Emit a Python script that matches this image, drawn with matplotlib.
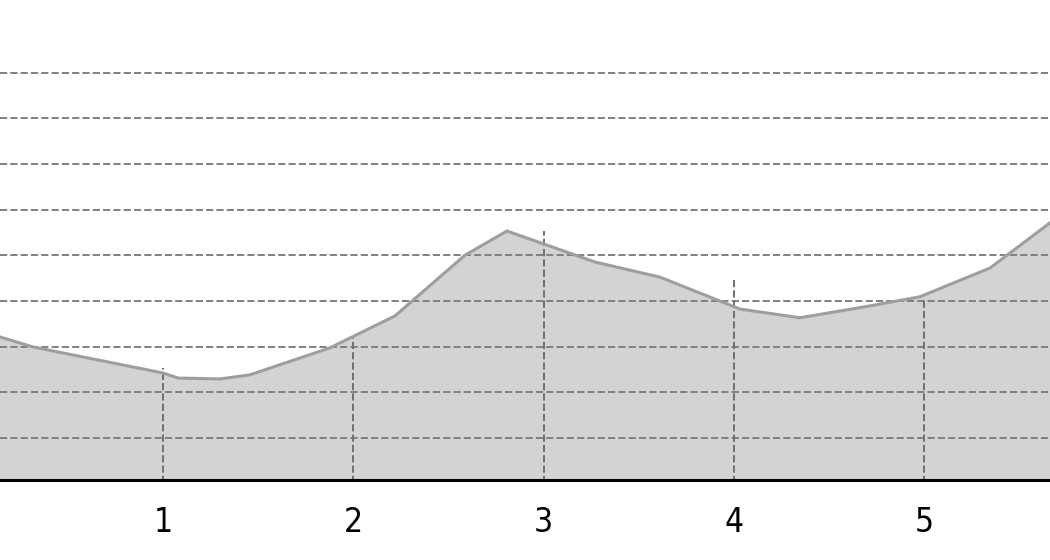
import matplotlib
matplotlib.use("Agg")
import matplotlib.pyplot as plt

# curve
curve_x = [0.143, 0.317, 1.0, 1.079, 1.30, 1.457, 1.877, 2.219, 2.587, 2.808,
           3.271, 3.612, 4.033, 4.348, 4.716, 4.978, 5.347, 5.662]
curve_y = [3.21, 2.99, 2.42, 2.31, 2.29, 2.38, 2.97, 3.67, 5.00, 5.53,
           4.85, 4.52, 3.82, 3.63, 3.89, 4.09, 4.72, 5.71]

# drop lines at the ticks
tick_x = [1, 2, 3, 4, 5]
tick_vals = [2.53, 3.21, 5.53, 4.48, 4.07]
tick_labels = ["1", "2", "3", "4", "5"]
grid_levels = [1, 2, 3, 4, 5, 6, 7, 8, 9]

fig = plt.figure(figsize=(10.5, 5.6), dpi=100)
ax = fig.add_axes([0, 0.1429, 1, 0.8571])

ax.fill_between(curve_x, 0, curve_y, color="#d3d3d3", zorder=1)
for g in grid_levels:
    ax.axhline(g, color="#808080", lw=1.4, ls="--", zorder=2)
ax.vlines(tick_x, 0, tick_vals, colors="#707070", lw=1.4, linestyles="--", zorder=2)
ax.plot(curve_x, curve_y, color="#9e9e9e", lw=2.2, zorder=3)

ax.set_xlim(0.1432, 5.662)
ax.set_ylim(0.077, 10.59)

for s in ["top", "left", "right"]:
    ax.spines[s].set_visible(False)
ax.spines["bottom"].set_linewidth(2.2)
ax.spines["bottom"].set_color("black")

ax.set_yticks([])
ax.set_xticks(tick_x)
ax.set_xticklabels(tick_labels, fontsize=24, fontfamily="DejaVu Sans", fontstretch="condensed")
ax.tick_params(axis="x", length=0, pad=19)

plt.savefig("out.png", dpi=100)
